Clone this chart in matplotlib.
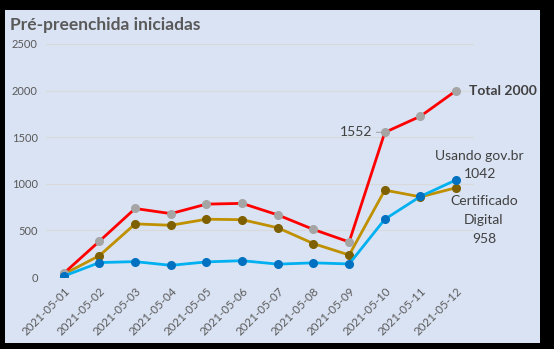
import matplotlib
matplotlib.use("Agg")
import matplotlib.pyplot as plt

dates = ["2021-05-01", "2021-05-02", "2021-05-03", "2021-05-04", "2021-05-05",
         "2021-05-06", "2021-05-07", "2021-05-08", "2021-05-09", "2021-05-10",
         "2021-05-11", "2021-05-12"]
govbr = [10, 155, 165, 125, 162, 175, 138, 152, 140, 620, 865, 1042]
certificado = [30, 230, 570, 555, 620, 615, 528, 358, 236, 932, 860, 958]
total = [g + c for g, c in zip(govbr, certificado)]
yticks = [0, 500, 1000, 1500, 2000, 2500]

plt.rcParams["font.family"] = ["Lato", "DejaVu Sans"]

fig = plt.figure(figsize=(5.54, 3.49), dpi=100, facecolor="black")
W, H = 554, 349

# light panel behind the chart
bg = fig.add_axes([5 / W, 1 - 343 / H, 535 / W, 333 / H], zorder=0)
bg.set_facecolor("#DAE3F3")
bg.set_xticks([])
bg.set_yticks([])
for s in bg.spines.values():
    s.set_visible(False)

ax = fig.add_axes([46 / W, 1 - 277 / H, 428 / W, 233 / H], zorder=1)
ax.set_facecolor("none")
x = list(range(len(dates)))

ax.plot(x, total, color="#FF0000", lw=2.0, marker="o", ms=5.5,
        mfc="#A5A5A5", mec="#A5A5A5", zorder=4)
ax.plot(x, certificado, color="#BF9000", lw=2.0, marker="o", ms=5.5,
        mfc="#7F6000", mec="#7F6000", zorder=3)
ax.plot(x, govbr, color="#00B0F0", lw=2.0, marker="o", ms=5.5,
        mfc="#0070C0", mec="#0070C0", zorder=5)

ax.set_xlim(-0.5, len(dates) - 0.5)
ax.set_ylim(0, 2500)
ax.set_yticks(yticks)
ax.set_yticklabels([str(v) for v in yticks], color="#595959", fontsize=8)
ax.set_xticks(x)
ax.set_xticklabels(dates, rotation=45, ha="right", rotation_mode="anchor",
                   color="#595959", fontsize=8.3)
ax.tick_params(length=0, pad=6)
ax.tick_params(axis="x", pad=6)
ax.grid(axis="y", color="#D9D9D9", lw=0.8)
ax.set_axisbelow(True)
for s in ax.spines.values():
    s.set_visible(False)

txt = "#404040"
ax.annotate(f"Total {total[-1]}", (x[-1], total[-1]), xytext=(9, 0),
            textcoords="offset points", ha="left", va="center",
            fontsize=10, fontweight="bold", color=txt, annotation_clip=False)
ax.annotate(f"{total[9]}", (x[9], total[9]), xytext=(-9, 0),
            textcoords="offset points", ha="right", va="center",
            fontsize=10, color=txt,
            arrowprops=dict(arrowstyle="-", color="#A5A5A5", lw=0.8,
                            shrinkA=1, shrinkB=3))
ax.annotate(f"Usando gov.br\n{govbr[-1]}", (x[-1], govbr[-1]), xytext=(17, 11),
            textcoords="offset points", ha="center", va="center",
            fontsize=10, color=txt, linespacing=1.6, annotation_clip=False)
ax.annotate(f"Certificado\nDigital\n{certificado[-1]}", (x[-1], certificado[-1]),
            xytext=(20, -23), textcoords="offset points", ha="center",
            va="center", fontsize=10, color=txt, linespacing=1.7,
            annotation_clip=False)

fig.text(10 / W, 1 - 25 / H, "Pré-preenchida iniciadas", fontsize=12.5,
         fontweight="bold", color="#595959", ha="left", va="center", zorder=3)

fig.savefig("out.png", dpi=100, facecolor="black")
